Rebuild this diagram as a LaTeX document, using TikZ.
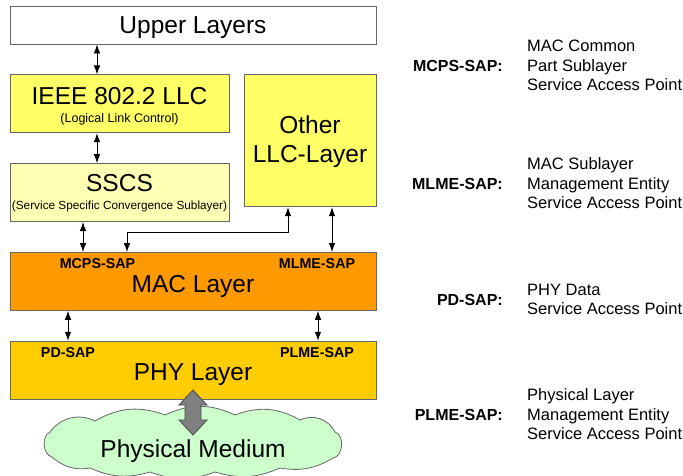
\documentclass[tikz,border=0pt]{standalone}
\usepackage{fontspec}
\setmainfont{Liberation Sans}
\usepackage{tikz}
\usetikzlibrary{arrows.meta, positioning}
\definecolor{llcyellow}{HTML}{FFFF66}
\definecolor{sscsyellow}{HTML}{FFFFB3}
\definecolor{macorange}{HTML}{FF9900}
\definecolor{phygold}{HTML}{FFCC00}
\definecolor{mediumgreen}{HTML}{CCFFCC}
\definecolor{framegray}{HTML}{666666}
\tikzstyle{layer} = [rectangle, draw=framegray, line width=0.8pt, minimum
width=366pt, minimum height=58pt, inner sep=0pt]
\tikzstyle{llcbox} = [layer, minimum width=219pt, fill=llcyellow]
\tikzstyle{medium} = [draw=framegray, fill=mediumgreen, line width=0.8pt]
\tikzstyle{bigtext} = [font=\fontsize{24.5}{29}\selectfont, anchor=base, inner sep=0pt]
\tikzstyle{smalltext} = [font=\fontsize{12.5}{14}\selectfont, anchor=base, inner sep=0pt]
\tikzstyle{sap} = [font=\bfseries\fontsize{14.3}{16}\selectfont, anchor=base, inner sep=0pt]
\tikzstyle{keyname} = [font=\bfseries\fontsize{16}{19}\selectfont, anchor=base east,
inner sep=0pt]
\tikzstyle{keytext} = [font=\fontsize{16.5}{19.5}\selectfont, align=left, inner sep=0pt]
\tikzstyle{arrow} = [<->, >={Latex[length=9pt,width=6.5pt]}, line width=0.8pt]
\tikzstyle{bigarrow} = [fill=gray, draw=black!70, line width=0.8pt]

\begin{document}
\begin{tikzpicture}[x=1pt, y=-1pt]
\useasboundingbox (0,0) rectangle (683,475);

\node(upper)[layer, minimum height=38pt, fill=white] at (193,25) {};
\node(llc)[llcbox, below right=30pt and 0pt of upper.south west] {};
\node(sscs)[llcbox, fill=sscsyellow, below=30pt of llc] {};
\node(other)[llcbox, minimum width=132pt, minimum height=132pt,
below left=30pt and 0pt of upper.south east] {};
\node(mac)[layer, fill=macorange, below right=30pt and 0pt of sscs.south west] {};
\node(phy)[layer, fill=phygold, below=30pt of mac] {};
\draw[medium](50,432) to[bend left=40] (95,421) to[bend left=25] (165,415)
to[bend left=25] (235,415) to[bend left=25] (300,420) to[bend left=45] (335,432)
to[bend left=80] (333,458) to[bend left=20] (280,468) to[bend left=20] (215,472)
to[bend left=20] (150,472) to[bend left=20] (90,468) to[bend left=25] (52,457)
to[bend left=70] (50,432) -- cycle;

\node(uppertext)[bigtext] at (193,33) {Upper Layers};
\node(llctext)[bigtext] at (119.5,104) {IEEE 802.2 LLC};
\node(llcsub)[smalltext] at (119.5,122) {(Logical Link Control)};
\node(sscstext)[bigtext] at (119.5,191) {SSCS};
\node(sscssub)[smalltext, font=\fontsize{11.8}{14}\selectfont] at (119.5,209)
{(Service Specific Convergence Sublayer)};
\node(othertext)[bigtext, align=center, anchor=center] at (310,141.3) {Other\\LLC-Layer};
\node(mactext)[bigtext] at (193,292) {MAC Layer};
\node(mcps)[sap] at (97.5,268) {MCPS-SAP};
\node(mlme)[sap] at (317,268) {MLME-SAP};
\node(phytext)[bigtext] at (193,380) {PHY Layer};
\node(pd)[sap] at (68,357) {PD-SAP};
\node(plme)[sap] at (317,357) {PLME-SAP};
\node(mediumtext)[bigtext] at (193,457) {Physical Medium};

\node(mcpskey)[keyname] at (503,71) {MCPS-SAP:};
\node(mcpsdesc)[keytext, right=24pt of mcpskey] {MAC Common\\Part Sublayer\\Service Access Point};
\node(mlmekey)[keyname] at (503,189) {MLME-SAP:};
\node(mlmedesc)[keytext, right=24pt of mlmekey] {MAC Sublayer\\Management Entity\\Service Access Point};
\node(pdkey)[keyname] at (503,305) {PD-SAP:};
\node(pddesc)[keytext, right=24pt of pdkey] {PHY Data\\Service Access Point};
\node(plmekey)[keyname] at (503,420) {PLME-SAP:};
\node(plmedesc)[keytext, right=24pt of plmekey] {Physical Layer\\Management Entity\\Service Access Point};

\coordinate(bend) at (127,232);
\draw[arrow](97,0 |- upper.south) -- (97,0 |- llc.north);
\draw[arrow](97,0 |- llc.south) -- (97,0 |- sscs.north);
\draw[arrow](83,0 |- sscs.south) -- (83,0 |- mac.north);
\draw[arrow](288,0 |- other.south) |- (bend) -- (bend |- mac.north);
\draw[arrow](332,0 |- other.south) -- (332,0 |- mac.north);
\draw[arrow](68,0 |- mac.south) -- (68,0 |- phy.north);
\draw[arrow](318,0 |- mac.south) -- (318,0 |- phy.north);
\draw[bigarrow](193,390) -- (207,405) -- (201,405) -- (201,420) -- (207,420) --
(193,435) -- (179,420) -- (185,420) -- (185,405) -- (179,405) -- cycle;

\end{tikzpicture}
\end{document}
